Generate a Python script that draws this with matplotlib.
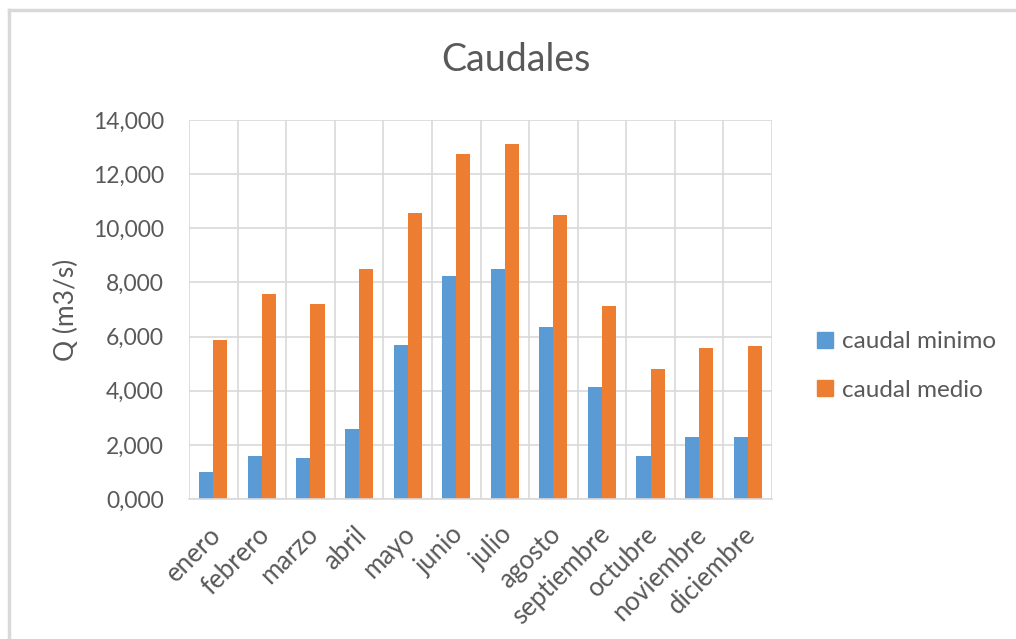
import numpy as np
import matplotlib.pyplot as plt
from matplotlib.lines import Line2D
from matplotlib.ticker import FuncFormatter, MultipleLocator
from matplotlib.transforms import ScaledTranslation

# Datos
meses = ["enero", "febrero", "marzo", "abril", "mayo", "junio", "julio",
         "agosto", "septiembre", "octubre", "noviembre", "diciembre"]
caudal_minimo = [1.01, 1.58, 1.53, 2.57, 5.69, 8.25, 8.50, 6.37, 4.13, 1.58, 2.30, 2.30]
caudal_medio = [5.86, 7.57, 7.20, 8.50, 10.58, 12.73, 13.10, 10.48, 7.14, 4.81, 5.59, 5.64]

AZUL = "#5B9BD5"
NARANJA = "#ED7D31"
GRIS_TEXTO = "#595959"
GRIS_LINEA = "#D9D9D9"

plt.rcParams["font.family"] = ["Lato", "DejaVu Sans"]

fig = plt.figure(figsize=(10.16, 6.39), dpi=100)
ax = fig.add_axes([189 / 1016, 1 - 499 / 639, 583 / 1016, 379 / 639])

x = np.arange(len(meses))
w = 0.29
ax.bar(x - w / 2, caudal_minimo, w, color=AZUL, label="caudal minimo", zorder=3)
ax.bar(x + w / 2, caudal_medio, w, color=NARANJA, label="caudal medio", zorder=3)

ax.set_xlim(-0.5, len(meses) - 0.5)
ax.set_ylim(0, 14)
ax.yaxis.set_major_locator(MultipleLocator(2))
ax.yaxis.set_major_formatter(FuncFormatter(lambda v, p: f"{v:.3f}".replace(".", ",")))

ax.grid(axis="y", which="major", color=GRIS_LINEA, linewidth=1.2, zorder=0)
ax.grid(axis="x", which="minor", color=GRIS_LINEA, linewidth=1.2, zorder=0)
ax.tick_params(axis="both", which="both", length=0, labelsize=16.5, colors=GRIS_TEXTO)
ax.tick_params(axis="x", labelsize=18.5, pad=10)
ax.tick_params(axis="y", pad=18)

ax.set_xticks(x)
ax.set_xticklabels(meses, rotation=45, ha="right", va="top", rotation_mode="anchor")
ax.set_xticks(np.arange(-0.5, len(meses), 1), minor=True)
# desplazar etiquetas (despues de tick_params, que reinicia las transformaciones)
desplaza = ScaledTranslation(-5 / 100, -9 / 100, fig.dpi_scale_trans)
for lab in ax.get_xticklabels():
    lab.set_transform(lab.get_transform() + desplaza)

for s in ["top", "right", "left"]:
    ax.spines[s].set_visible(False)
ax.spines["bottom"].set_color(GRIS_LINEA)
ax.spines["bottom"].set_linewidth(1.2)
ax.spines["bottom"].set_zorder(4)

ax.set_ylabel("Q (m3/s)", fontsize=19, color=GRIS_TEXTO, labelpad=10)

fig.text(516 / 1016, 1 - 60 / 639, "Caudales", fontsize=27, color=GRIS_TEXTO,
         ha="center", va="center")

handles = [Line2D([], [], marker="s", linestyle="none", markersize=11, color=AZUL),
           Line2D([], [], marker="s", linestyle="none", markersize=11, color=NARANJA)]
fig.legend(handles, ["caudal minimo", "caudal medio"], loc="center left",
           bbox_to_anchor=(793 / 1016, 1 - 366 / 639), frameon=False,
           fontsize=17.5, labelcolor=GRIS_TEXTO, handlelength=0.8,
           handletextpad=0.3, labelspacing=1.15)

# borde del area del grafico
fig.add_artist(Line2D([9 / 1016, 9 / 1016], [0, 1 - 10 / 639], transform=fig.transFigure,
                      color=GRIS_LINEA, linewidth=2.5))
fig.add_artist(Line2D([9 / 1016, 1], [1 - 10 / 639, 1 - 10 / 639], transform=fig.transFigure,
                      color=GRIS_LINEA, linewidth=2.5))

fig.savefig("out.png", dpi=100, facecolor="white")
